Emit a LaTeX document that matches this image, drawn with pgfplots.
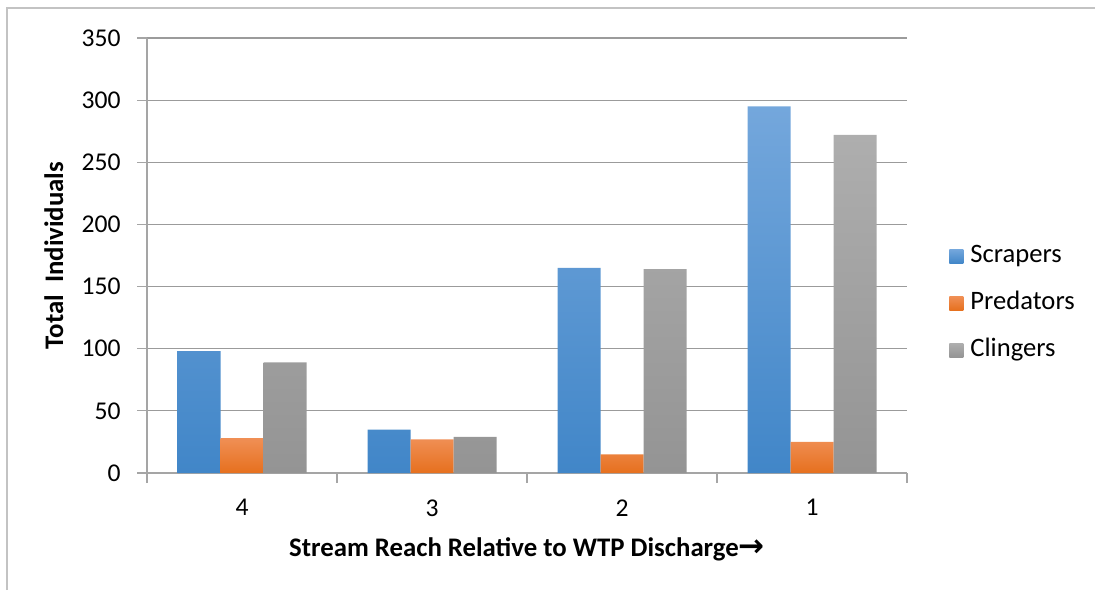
\documentclass[border=0pt]{standalone}
\usepackage{pgfplots}
\pgfplotsset{compat=1.18}
\usepackage{fontspec}
\setmainfont{Carlito}
\newfontfamily\arrowfont{DejaVu Sans}
\definecolor{scrTop}{RGB}{116,167,220}
\definecolor{scrBot}{RGB}{65,134,200}
\definecolor{preTop}{RGB}{240,143,85}
\definecolor{preBot}{RGB}{230,112,30}
\definecolor{cliTop}{RGB}{174,174,174}
\definecolor{cliBot}{RGB}{148,148,148}
\definecolor{gridgray}{RGB}{155,155,155}
\definecolor{axisgray}{RGB}{165,165,165}
\definecolor{framegray}{RGB}{195,195,195}

\begin{document}
\begin{tikzpicture}[x=0.5pt,y=0.5pt]
\useasboundingbox (0,0) rectangle (1095,590);
% outer chart frame (only left and top edges are visible)
\draw[framegray, line width=0.9pt] (7,0) -- (7,582) -- (1095,582);
\begin{axis}[
    at={(73.5pt,58.5pt)}, anchor=south west,
    scale only axis, width=380pt, height=217.5pt,
    xmin=-0.5, xmax=3.5, ymin=0, ymax=350,
    ytick={0,50,...,350},
    xtick={0,1,2,3}, xticklabels={4,3,2,1},
    xtick style={draw=none},
    extra x ticks={-0.5,0.5,1.5,2.5,3.5}, extra x tick labels={},
    extra x tick style={xtick style={draw=axisgray, line width=0.6pt}, grid=none},
    axis x line*=bottom, axis y line*=left,
    axis line style={draw=axisgray, line width=0.6pt},
    ytick style={draw=axisgray, line width=0.6pt},
    tick align=outside, major tick length=5pt,
    ymajorgrids, grid style={draw=gridgray, line width=0.6pt},
    ybar=0pt, bar width=21.5pt,
    /pgf/number format/assume math mode=true,
    tick label style={font=\fontsize{12.8}{15}\selectfont, text=black},
    yticklabel style={inner xsep=0pt, xshift=-8pt},
    xticklabel style={inner ysep=0pt, yshift=-8pt},
    xlabel={Stream Reach Relative to WTP Discharge{\arrowfont\bfseries\fontsize{15.5}{15}\selectfont →}},
    ylabel={Total\ \ Individuals},
    label style={font=\fontsize{13.4}{15}\selectfont\bfseries},
    xlabel style={at={(axis description cs:0.5,-0.193)}, anchor=base, inner sep=0pt},
    ylabel style={at={(axis description cs:-0.1105,0.5)}, anchor=base, rotate=0, inner sep=0pt},
    legend style={at={(axis description cs:1.0553,0.39)}, anchor=west, draw=none,
        fill=none, inner sep=0pt, font=\fontsize{13.3}{15}\selectfont,
        row sep=11pt, column sep=3.5pt,
        nodes={inner sep=0pt, text height=9.5pt, text depth=3pt, anchor=west}},
    legend cell align=left,
    legend image code/.code={\path[#1] (0pt,-3.5pt) rectangle (7pt,3.5pt);},
]
\addplot[draw=none, top color=scrTop, bottom color=scrBot] coordinates {(0,98) (1,35) (2,165) (3,295)};
\addlegendentry{Scrapers}
\addplot[draw=none, top color=preTop, bottom color=preBot] coordinates {(0,28) (1,27) (2,15) (3,25)};
\addlegendentry{Predators}
\addplot[draw=none, top color=cliTop, bottom color=cliBot] coordinates {(0,89) (1,29) (2,164) (3,272)};
\addlegendentry{Clingers}
\end{axis}
\end{tikzpicture}
\end{document}
